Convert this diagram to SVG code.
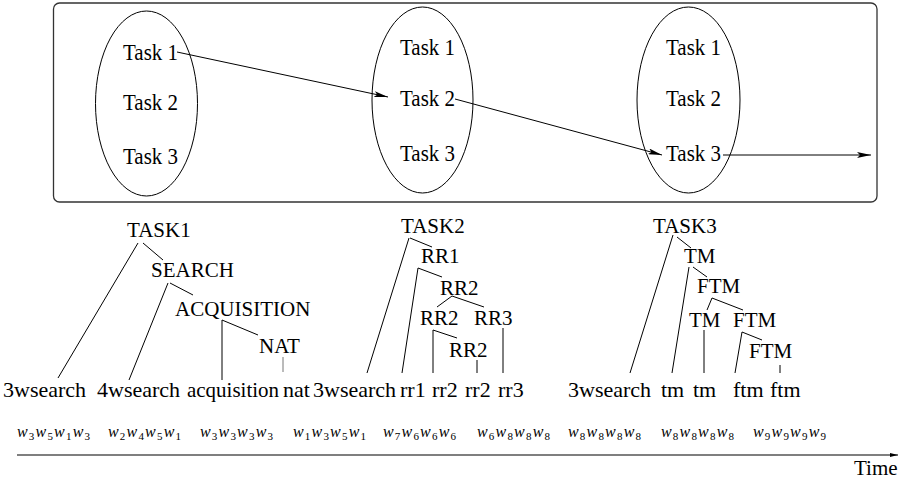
<svg xmlns="http://www.w3.org/2000/svg" width="899" height="486" viewBox="0 0 899 486" font-family="'Liberation Serif', 'Times New Roman', Times, 'DejaVu Serif', serif">
<style>
  text { font-family: "Liberation Serif", "Times New Roman", Times, "DejaVu Serif", serif; fill: #000; }
  .t { font-size: 21px; }
  .tk { font-size: 23px; }
  .lf { font-size: 22px; }
  .wl { font-size: 16px; }
  .wi { font-style: italic; }
  .sb { font-size: 11px; }
  .ln { stroke: #000; stroke-width: 1; fill: none; }
  .lg { stroke: #777; stroke-width: 1; fill: none; }
  .ar { stroke: #000; stroke-width: 1; fill: none; marker-end: url(#ah); }
  .ell { stroke: #000; stroke-width: 1; fill: none; }
</style>
<defs>
  <marker id="ah" viewBox="0 0 14 6" refX="14" refY="3" markerWidth="14" markerHeight="6" markerUnits="userSpaceOnUse" orient="auto">
    <path d="M0,0 L14,3 L0,6 L3,3 Z" fill="#000"/>
  </marker>
  <marker id="ahs" viewBox="0 0 8 4" refX="8" refY="2" markerWidth="8" markerHeight="4" markerUnits="userSpaceOnUse" orient="auto">
    <path d="M0,0 L8,2 L0,4 Z" fill="#000"/>
  </marker>
</defs>
<rect width="899" height="486" fill="#fff"/>

<g id="frame">
  <rect x="53.5" y="3" width="823.5" height="199" rx="6" ry="6" fill="none" stroke="#333" stroke-width="1.3"/>
</g>

<g id="state1">
  <ellipse class="ell" cx="146.5" cy="103.5" rx="51" ry="92.5"/>
  <text class="tk" x="123" y="60" textLength="55" lengthAdjust="spacingAndGlyphs">Task 1</text>
  <text class="tk" x="123" y="110" textLength="55" lengthAdjust="spacingAndGlyphs">Task 2</text>
  <text class="tk" x="123" y="164" textLength="55" lengthAdjust="spacingAndGlyphs">Task 3</text>
</g>
<g id="state2">
  <ellipse class="ell" cx="422.5" cy="100" rx="50.5" ry="93"/>
  <text class="tk" x="400" y="55" textLength="55" lengthAdjust="spacingAndGlyphs">Task 1</text>
  <text class="tk" x="400" y="106" textLength="55" lengthAdjust="spacingAndGlyphs">Task 2</text>
  <text class="tk" x="400" y="161" textLength="55" lengthAdjust="spacingAndGlyphs">Task 3</text>
</g>
<g id="state3">
  <ellipse class="ell" cx="688.5" cy="100" rx="51.5" ry="93"/>
  <text class="tk" x="666" y="55" textLength="55" lengthAdjust="spacingAndGlyphs">Task 1</text>
  <text class="tk" x="666" y="106" textLength="55" lengthAdjust="spacingAndGlyphs">Task 2</text>
  <text class="tk" x="666" y="161" textLength="55" lengthAdjust="spacingAndGlyphs">Task 3</text>
</g>

<g id="connectors">
  <line class="ar" x1="177" y1="52" x2="388" y2="97"/>
  <line class="ar" x1="455" y1="99" x2="662" y2="155"/>
  <line class="ar" x1="723" y1="155" x2="871" y2="155" stroke="#555"/>
  <!-- tree 1 -->
  <line class="ln" x1="138" y1="243" x2="58" y2="378"/>
  <line class="ln" x1="143" y1="243" x2="163" y2="260"/>
  <line class="ln" x1="168" y1="283" x2="129" y2="380"/>
  <line class="ln" x1="170" y1="283" x2="193" y2="295"/>
  <line class="ln" x1="222" y1="320" x2="222" y2="380"/>
  <line class="ln" x1="222" y1="320" x2="258" y2="335"/>
  <line class="lg" x1="283" y1="357" x2="283" y2="372"/>
  <!-- tree 2 -->
  <line class="ln" x1="409" y1="238" x2="367" y2="373"/>
  <line class="ln" x1="410" y1="238" x2="432" y2="247"/>
  <line class="ln" x1="418" y1="268" x2="402" y2="373"/>
  <line class="ln" x1="418" y1="268" x2="442" y2="277"/>
  <line class="ln" x1="452" y1="296" x2="437" y2="307"/>
  <line class="ln" x1="452" y1="296" x2="484" y2="307"/>
  <line class="ln" x1="433" y1="330" x2="433" y2="373"/>
  <line class="ln" x1="433" y1="330" x2="457" y2="338"/>
  <line class="ln" x1="477" y1="360" x2="477" y2="373"/>
  <line class="ln" x1="503" y1="328" x2="503" y2="373"/>
  <!-- tree 3 -->
  <line class="ln" x1="673" y1="235" x2="630" y2="373"/>
  <line class="ln" x1="677" y1="237" x2="691" y2="248"/>
  <line class="ln" x1="689" y1="267" x2="672" y2="373"/>
  <line class="ln" x1="693" y1="267" x2="707" y2="277"/>
  <line class="ln" x1="712" y1="298" x2="707" y2="310"/>
  <line class="ln" x1="712" y1="298" x2="743" y2="310"/>
  <line class="ln" x1="704" y1="330" x2="704" y2="373"/>
  <line class="ln" x1="742" y1="332" x2="735" y2="373"/>
  <line class="ln" x1="742" y1="332" x2="762" y2="340"/>
  <line class="ln" x1="780" y1="365" x2="780" y2="373"/>
  <!-- time axis -->
  <line x1="17" y1="455" x2="898" y2="455" stroke="#000" stroke-width="1.2" marker-end="url(#ahs)"/>
</g>

<g id="tree1">
  <g id="n-task1"><text class="t" x="127" y="237">TASK1</text></g>
  <g id="n-search"><text class="t" x="151" y="277">SEARCH</text></g>
  <g id="n-acquisition"><text class="t" x="175" y="316">ACQUISITION</text></g>
  <g id="n-nat"><text class="t" x="259" y="353">NAT</text></g>
  <g id="l1-3wsearch"><text class="lf" x="3" y="397">3wsearch</text></g>
  <g id="l1-4wsearch"><text class="lf" x="97" y="397">4wsearch</text></g>
  <g id="l1-acquisition"><text class="lf" x="187" y="397" textLength="92" lengthAdjust="spacingAndGlyphs">acquisition</text></g>
  <g id="l1-nat"><text class="lf" x="283" y="397">nat</text></g>
</g>

<g id="tree2">
  <g id="n-task2"><text class="t" x="401" y="233">TASK2</text></g>
  <g id="n-rr1"><text class="t" x="421" y="263">RR1</text></g>
  <g id="n-rr2a"><text class="t" x="440" y="295">RR2</text></g>
  <g id="n-rr2b"><text class="t" x="420" y="325">RR2</text></g>
  <g id="n-rr3"><text class="t" x="474" y="325">RR3</text></g>
  <g id="n-rr2c"><text class="t" x="449" y="357">RR2</text></g>
  <g id="l2-3wsearch"><text class="lf" x="313" y="397">3wsearch</text></g>
  <g id="l2-rr1"><text class="lf" x="400" y="397">rr1</text></g>
  <g id="l2-rr2a"><text class="lf" x="432" y="397">rr2</text></g>
  <g id="l2-rr2b"><text class="lf" x="465" y="397">rr2</text></g>
  <g id="l2-rr3"><text class="lf" x="498" y="397">rr3</text></g>
</g>

<g id="tree3">
  <g id="n-task3"><text class="t" x="653" y="233">TASK3</text></g>
  <g id="n-tm1"><text class="t" x="684" y="263">TM</text></g>
  <g id="n-ftm1"><text class="t" x="697" y="293">FTM</text></g>
  <g id="n-tm2"><text class="t" x="689" y="327">TM</text></g>
  <g id="n-ftm2"><text class="t" x="733" y="327">FTM</text></g>
  <g id="n-ftm3"><text class="t" x="749" y="358">FTM</text></g>
  <g id="l3-3wsearch"><text class="lf" x="568" y="397">3wsearch</text></g>
  <g id="l3-tm1"><text class="lf" x="661" y="397">tm</text></g>
  <g id="l3-tm2"><text class="lf" x="693" y="397">tm</text></g>
  <g id="l3-ftm1"><text class="lf" x="733" y="397">ftm</text></g>
  <g id="l3-ftm2"><text class="lf" x="770" y="397">ftm</text></g>
</g>

<g id="words">
  <text class="wl" x="17" y="437" textLength="73" lengthAdjust="spacing"><tspan class="wi">w</tspan><tspan class="sb" dy="3">3</tspan><tspan class="wi" dy="-3">w</tspan><tspan class="sb" dy="3">5</tspan><tspan class="wi" dy="-3">w</tspan><tspan class="sb" dy="3">1</tspan><tspan class="wi" dy="-3">w</tspan><tspan class="sb" dy="3">3</tspan></text>
  <text class="wl" x="108" y="437" textLength="73" lengthAdjust="spacing"><tspan class="wi">w</tspan><tspan class="sb" dy="3">2</tspan><tspan class="wi" dy="-3">w</tspan><tspan class="sb" dy="3">4</tspan><tspan class="wi" dy="-3">w</tspan><tspan class="sb" dy="3">5</tspan><tspan class="wi" dy="-3">w</tspan><tspan class="sb" dy="3">1</tspan></text>
  <text class="wl" x="200" y="437" textLength="73" lengthAdjust="spacing"><tspan class="wi">w</tspan><tspan class="sb" dy="3">3</tspan><tspan class="wi" dy="-3">w</tspan><tspan class="sb" dy="3">3</tspan><tspan class="wi" dy="-3">w</tspan><tspan class="sb" dy="3">3</tspan><tspan class="wi" dy="-3">w</tspan><tspan class="sb" dy="3">3</tspan></text>
  <text class="wl" x="293" y="437" textLength="73" lengthAdjust="spacing"><tspan class="wi">w</tspan><tspan class="sb" dy="3">1</tspan><tspan class="wi" dy="-3">w</tspan><tspan class="sb" dy="3">3</tspan><tspan class="wi" dy="-3">w</tspan><tspan class="sb" dy="3">5</tspan><tspan class="wi" dy="-3">w</tspan><tspan class="sb" dy="3">1</tspan></text>
  <text class="wl" x="383" y="437" textLength="73" lengthAdjust="spacing"><tspan class="wi">w</tspan><tspan class="sb" dy="3">7</tspan><tspan class="wi" dy="-3">w</tspan><tspan class="sb" dy="3">6</tspan><tspan class="wi" dy="-3">w</tspan><tspan class="sb" dy="3">6</tspan><tspan class="wi" dy="-3">w</tspan><tspan class="sb" dy="3">6</tspan></text>
  <text class="wl" x="477" y="437" textLength="73" lengthAdjust="spacing"><tspan class="wi">w</tspan><tspan class="sb" dy="3">6</tspan><tspan class="wi" dy="-3">w</tspan><tspan class="sb" dy="3">8</tspan><tspan class="wi" dy="-3">w</tspan><tspan class="sb" dy="3">8</tspan><tspan class="wi" dy="-3">w</tspan><tspan class="sb" dy="3">8</tspan></text>
  <text class="wl" x="568" y="437" textLength="73" lengthAdjust="spacing"><tspan class="wi">w</tspan><tspan class="sb" dy="3">8</tspan><tspan class="wi" dy="-3">w</tspan><tspan class="sb" dy="3">8</tspan><tspan class="wi" dy="-3">w</tspan><tspan class="sb" dy="3">8</tspan><tspan class="wi" dy="-3">w</tspan><tspan class="sb" dy="3">8</tspan></text>
  <text class="wl" x="661" y="437" textLength="73" lengthAdjust="spacing"><tspan class="wi">w</tspan><tspan class="sb" dy="3">8</tspan><tspan class="wi" dy="-3">w</tspan><tspan class="sb" dy="3">8</tspan><tspan class="wi" dy="-3">w</tspan><tspan class="sb" dy="3">8</tspan><tspan class="wi" dy="-3">w</tspan><tspan class="sb" dy="3">8</tspan></text>
  <text class="wl" x="753" y="437" textLength="73" lengthAdjust="spacing"><tspan class="wi">w</tspan><tspan class="sb" dy="3">9</tspan><tspan class="wi" dy="-3">w</tspan><tspan class="sb" dy="3">9</tspan><tspan class="wi" dy="-3">w</tspan><tspan class="sb" dy="3">9</tspan><tspan class="wi" dy="-3">w</tspan><tspan class="sb" dy="3">9</tspan></text>
</g>

<g id="time-label">
  <text class="t" x="854" y="475">Time</text>
</g>
</svg>
